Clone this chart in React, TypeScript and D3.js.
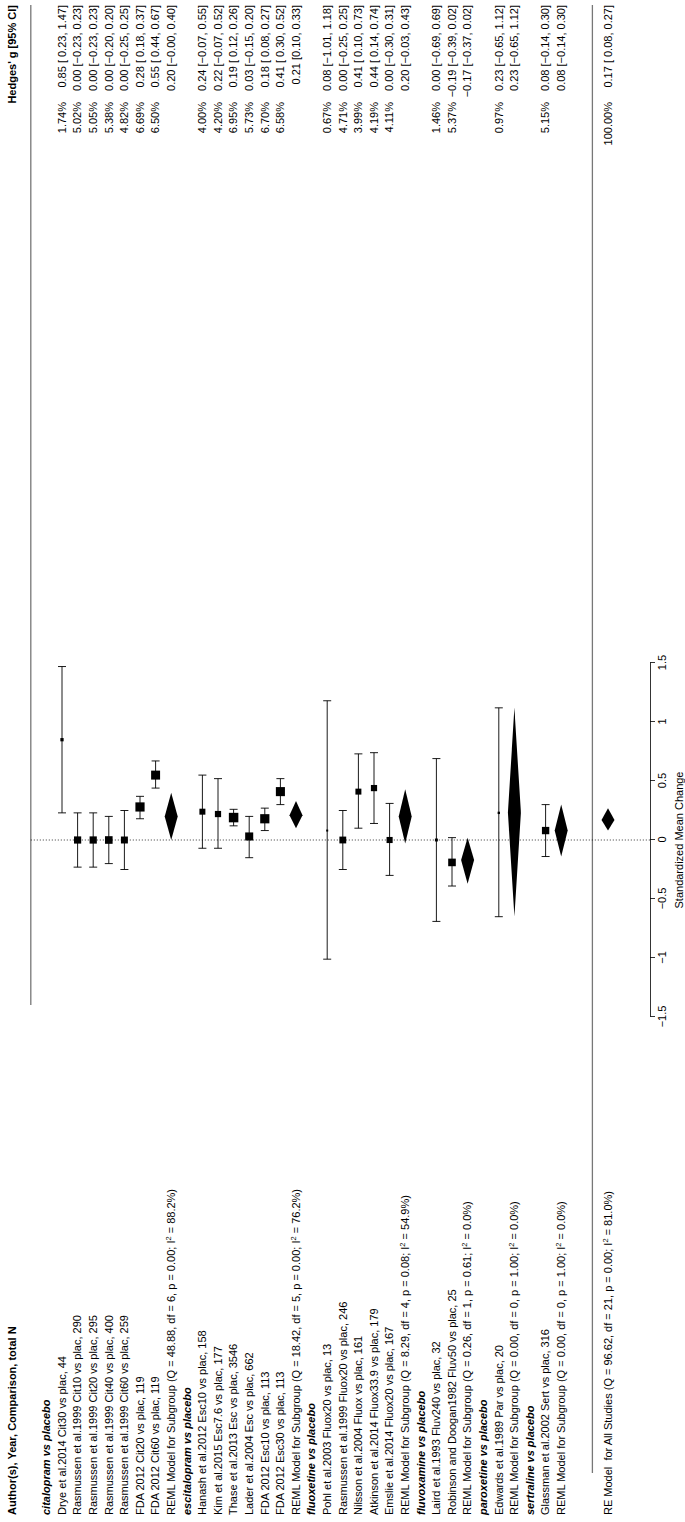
import React, { useEffect, useRef } from "react";
import * as d3 from "d3";

const groupNames = [
  "citalopram vs placebo",
  "escitalopram vs placebo",
  "fluoxetine vs placebo",
  "fluvoxamine vs placebo",
  "paroxetine vs placebo",
  "sertraline vs placebo",
];

const studyLabels = [
  "Drye et al.2014 Cit30 vs plac, 44",
  "Rasmussen et al.1999 Cit10 vs plac, 290",
  "Rasmussen et al.1999 Cit20 vs plac, 295",
  "Rasmussen et al.1999 Cit40 vs plac, 400",
  "Rasmussen et al.1999 Cit60 vs plac, 259",
  "FDA 2012 Cit20 vs plac, 119",
  "FDA 2012 Cit60 vs plac, 119",
  "Hanash et al.2012 Esc10 vs plac, 158",
  "Kim et al.2015 Esc7.6 vs plac, 177",
  "Thase et al.2013 Esc vs plac, 3546",
  "Lader et al.2004 Esc vs plac, 662",
  "FDA 2012 Esc10 vs plac, 113",
  "FDA 2012 Esc30 vs plac, 113",
  "Pohl et al.2003 Fluox20 vs plac, 13",
  "Rasmussen et al.1999 Fluox20 vs plac, 246",
  "Nilsson et al.2004 Fluox vs plac, 161",
  "Atkinson et al.2014 Fluox33.9 vs plac, 179",
  "Emslie et al.2014 Fluox20 vs plac, 167",
  "Laird et al.1993 Fluv240 vs plac, 32",
  "Robinson and Doogan1982 Fluv50 vs plac, 25",
  "Edwards et al.1989 Par vs plac, 20",
  "Glassman et al.2002 Sert vs plac, 316",
];
const studyGroup = [0, 0, 0, 0, 0, 0, 0, 1, 1, 1, 1, 1, 1, 2, 2, 2, 2, 2, 3, 3, 4, 5];
const studyEst = [0.85, 0.0, 0.0, 0.0, 0.0, 0.28, 0.55, 0.24, 0.22, 0.19, 0.03, 0.18, 0.41, 0.08, 0.0, 0.41, 0.44, 0.0, 0.0, -0.19, 0.23, 0.08];
const studyLow = [0.23, -0.23, -0.23, -0.2, -0.25, 0.18, 0.44, -0.07, -0.07, 0.12, -0.15, 0.08, 0.3, -1.01, -0.25, 0.1, 0.14, -0.3, -0.69, -0.39, -0.65, -0.14];
const studyHigh = [1.47, 0.23, 0.23, 0.2, 0.25, 0.37, 0.67, 0.55, 0.52, 0.26, 0.2, 0.27, 0.52, 1.18, 0.25, 0.73, 0.74, 0.31, 0.69, 0.02, 1.12, 0.3];
const studyWeight = [1.74, 5.02, 5.05, 5.38, 4.82, 6.69, 6.5, 4.0, 4.2, 6.95, 5.73, 6.7, 6.58, 0.67, 4.71, 3.99, 4.19, 4.11, 1.46, 5.37, 0.97, 5.15];

const subQ = ["48.88", "18.42", "8.29", "0.26", "0.00", "0.00"];
const subDf = [6, 5, 4, 1, 0, 0];
const subP = ["0.00", "0.00", "0.08", "0.61", "1.00", "1.00"];
const subI2 = ["88.2", "76.2", "54.9", "0.0", "0.0", "0.0"];
const subEst = [0.2, 0.21, 0.2, -0.17, 0.23, 0.08];
const subLow = [-0.001, 0.1, -0.03, -0.37, -0.65, -0.14];
const subHigh = [0.4, 0.33, 0.43, 0.02, 1.12, 0.3];

const overallEst = 0.17;
const overallLow = 0.08;
const overallHigh = 0.27;
const overallStats = { Q: "96.62", df: 21, p: "0.00", I2: "81.0" };

const axisTicks = [-1.5, -1, -0.5, 0, 0.5, 1, 1.5];
const axisTitle = "Standardized Mean Change";
const headerLeft = "Author(s), Year, Comparison, total N";
const headerRight = "Hedges' g [95% CI]";

const W = 1522; // unrotated width (page height)
const H = 685; // unrotated height (page width)
const FONT = "'Liberation Sans', Arial, Helvetica, sans-serif";
const FS = 11;

const fmt = (v: number) => v.toFixed(2).replace("-", "\u2212");
const ciText = (e: number, l: number, h: number, pad: boolean) =>
  `${fmt(e)} [${pad && l >= 0 ? " " : ""}${fmt(l)}, ${fmt(h)}]`;

type Row =
  | { kind: "group"; label: string; r: number }
  | { kind: "study"; i: number; r: number }
  | { kind: "sub"; g: number; r: number };

export default function App() {
  const axisRef = useRef<SVGGElement>(null);

  const x = d3.scaleLinear().domain([-1.5, 1.5]).range([W - 1017, W - 663]);
  const rows: Row[] = [];
  let r = 0;
  groupNames.forEach((gname, g) => {
    rows.push({ kind: "group", label: gname, r: r++ });
    studyGroup.forEach((sg, i) => {
      if (sg === g) rows.push({ kind: "study", i, r: r++ });
    });
    rows.push({ kind: "sub", g, r: r++ });
  });
  const lastRow = r - 1;
  const overallRow = lastRow + 3;
  const y = d3.scaleLinear().domain([0, overallRow]).range([46.4, 608]);

  const wExt = d3.extent(studyWeight) as [number, number];
  const sizeScale = d3.scaleLinear().domain(wExt).range([2, 9.5]);

  const labelX = 7;
  const annotRight = W - 5;
  const weightRight = W - 102;
  const axisY = 650;
  const capH = 4;
  const diaH = 6.5;

  useEffect(() => {
    if (!axisRef.current) return;
    const g = d3.select(axisRef.current);
    g.selectAll("*").remove();
    g.call(
      d3
        .axisBottom(x)
        .tickValues(axisTicks)
        .tickSize(5)
        .tickSizeOuter(0)
        .tickPadding(3)
        .tickFormat((d) => d3.format("")(d as number))
    );
    g.attr("font-family", FONT).attr("font-size", FS);
    g.selectAll("path,line").attr("stroke", "#000").attr("stroke-width", 0.8);
  }, []);

  const statText = (prefix: string, Q: string, df: number, p: string, I2: string) => (
    <>
      {`${prefix} (Q = ${Q}, df = ${df}, p = ${p}; I`}
      <tspan dy={-4} fontSize={7.5}>
        2
      </tspan>
      <tspan dy={4}>{` = ${I2}%)`}</tspan>
    </>
  );

  const diamond = (e: number, l: number, h: number, yy: number) =>
    `${x(l)},${yy} ${x(e)},${yy - diaH} ${x(h)},${yy} ${x(e)},${yy + diaH}`;

  const pre = { whiteSpace: "pre" as const };

  return (
    <svg
      width={H}
      height={W}
      style={{ position: "absolute", left: 0, top: 0, background: "#fff" }}
      fontFamily={FONT}
      fontSize={FS}
    >
      <g transform={`translate(0,${W}) rotate(-90)`}>
        {/* headers */}
        <text x={labelX} y={12} dy="0.35em" fontWeight="bold">
          {headerLeft}
        </text>
        <text x={annotRight} y={12} dy="0.35em" fontWeight="bold" textAnchor="end">
          {headerRight}
        </text>
        {/* separator lines */}
        <line x1={517} x2={W - 5} y1={y(-1)} y2={y(-1)} stroke="#777" strokeWidth={1.3} />
        <line x1={49} x2={W - 5} y1={y(overallRow - 1)} y2={y(overallRow - 1)} stroke="#777" strokeWidth={1.3} />
        {/* reference line */}
        <line
          x1={x(0)}
          x2={x(0)}
          y1={y(-1)}
          y2={axisY}
          stroke="#000"
          strokeWidth={0.8}
          strokeDasharray="1,2"
        />
        {rows.map((row, k) => {
          const yy = y(row.r);
          if (row.kind === "group") {
            return (
              <text key={k} x={labelX} y={yy} dy="0.35em" fontWeight="bold" fontStyle="italic">
                {row.label}
              </text>
            );
          }
          if (row.kind === "study") {
            const i = row.i;
            const s = sizeScale(studyWeight[i]);
            return (
              <g key={k}>
                <text x={labelX} y={yy} dy="0.35em">
                  {studyLabels[i]}
                </text>
                <text x={weightRight} y={yy} dy="0.35em" textAnchor="end">
                  {studyWeight[i].toFixed(2) + "%"}
                </text>
                <text x={annotRight} y={yy} dy="0.35em" textAnchor="end" style={pre}>
                  {ciText(studyEst[i], studyLow[i], studyHigh[i], true)}
                </text>
                <line x1={x(studyLow[i])} x2={x(studyHigh[i])} y1={yy} y2={yy} stroke="#000" strokeWidth={0.9} />
                <line x1={x(studyLow[i])} x2={x(studyLow[i])} y1={yy - capH} y2={yy + capH} stroke="#000" strokeWidth={0.9} />
                <line x1={x(studyHigh[i])} x2={x(studyHigh[i])} y1={yy - capH} y2={yy + capH} stroke="#000" strokeWidth={0.9} />
                <rect x={x(studyEst[i]) - s / 2} y={yy - s / 2} width={s} height={s} fill="#000" />
              </g>
            );
          }
          const g = row.g;
          return (
            <g key={k}>
              <text x={labelX} y={yy} dy="0.35em">
                {statText("REML Model for Subgroup", subQ[g], subDf[g], subP[g], subI2[g])}
              </text>
              <text x={annotRight} y={yy} dy="0.35em" textAnchor="end">
                {ciText(subEst[g], subLow[g], subHigh[g], false)}
              </text>
              <polygon points={diamond(subEst[g], subLow[g], subHigh[g], yy)} fill="#000" />
            </g>
          );
        })}
        {/* overall */}
        <text x={labelX} y={y(overallRow)} dy="0.35em" style={pre}>
          {statText("RE Model  for All Studies", overallStats.Q, overallStats.df, overallStats.p, overallStats.I2)}
        </text>
        <text x={weightRight} y={y(overallRow)} dy="0.35em" textAnchor="end">
          100.00%
        </text>
        <text x={annotRight} y={y(overallRow)} dy="0.35em" textAnchor="end" style={pre}>
          {ciText(overallEst, overallLow, overallHigh, true)}
        </text>
        <polygon points={diamond(overallEst, overallLow, overallHigh, y(overallRow))} fill="#000" />
        {/* axis */}
        <g ref={axisRef} transform={`translate(0,${axisY})`} />
        <text x={x(0)} y={679} dy="0.35em" textAnchor="middle">
          {axisTitle}
        </text>
      </g>
    </svg>
  );
}
